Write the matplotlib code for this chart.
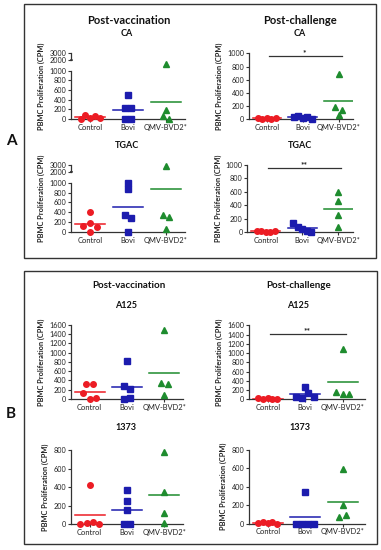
import matplotlib
matplotlib.use('Agg')
import matplotlib.pyplot as plt
import numpy as np
from matplotlib.patches import Rectangle

plt.rcParams['font.family'] = ['Lato', 'DejaVu Sans']

groups = ['Control', 'Bovi', 'QMV-BVD2*']

# CPM values per group (Control, Bovi, QMV-BVD2*)
ca_vax = [[10, 80, 30, 55, 25], [490, 230, 220, 5, 5], [1140, 180, 62, 5]]
ca_chal = [[20, 10, 25, 5, 15], [35, 45, 20, 35, 10], [686, 191, 141, 65]]
tgac_vax = [[410, 130, 190, 110, 0], [1000, 870, 350, 290, 0], [2750, 345, 305, 60]]
tgac_chal = [[20, 10, 0, 5, 15], [140, 70, 40, 20, 5], [594, 465, 248, 79]]
a125_vax = [[320, 320, 120, 0, 20], [810, 280, 220, 0, 20], [1490, 340, 320, 90]]
a125_chal = [[20, 10, 25, 5, 15], [60, 270, 20, 140, 50], [1088, 165, 110, 110]]
s1373_vax = [[425, 5, 15, 25, 0], [366, 246, 155, 0, 0], [778, 347, 119, 10]]
s1373_chal = [[10, 20, 5, 15, 0], [346, 0, 0, 0, 0], [588, 199, 70, 90]]

# significance bars: (level, label)
ca_sig = (960, '*')
tgac_sig = (946, '**')
a125_sig = (1406, '**')

colors = ['#ec1c24', '#1c1cae', '#1e8c2e']
markers = ['o', 's', '^']
msizes = [4.0, 4.2, 4.0]

W, H = 381, 550
fig = plt.figure(figsize=(W / 100, H / 100), dpi=100)


def frect(x0, y0, x1, y1):
    # pixel box (top-left origin) -> figure fraction rect
    return [x0 / W, 1 - y1 / H, (x1 - x0) / W, (y1 - y0) / H]


# broken y axis: linear to 1150, then 2000-3000 squeezed on top
bk_in = [0, 1150, 2000, 3000]
bk_out = [0, 1150, 1225, 1365]


def fwd(v):
    return np.interp(v, bk_in, bk_out)


def inv(v):
    return np.interp(v, bk_out, bk_in)


def spread(vals, thr):
    # GraphPad-like: points with close values are fanned out sideways
    vals = np.asarray(vals, dtype=float)
    order = np.argsort(vals, kind='stable')
    offs = np.zeros(len(vals))
    clusters = [[order[0]]]
    for k in order[1:]:
        if vals[k] - vals[clusters[-1][-1]] <= thr:
            clusters[-1].append(k)
        else:
            clusters.append([k])
    for c in clusters:
        n = len(c)
        step = min(0.18, 0.5 / max(n - 1, 1))
        for j, k in enumerate(sorted(c)):
            offs[k] = (j - (n - 1) / 2) * step
    return offs


def panel(box, data, ymax, yticks, xmax, broken=False, sig=None):
    ax = fig.add_axes(frect(*box))
    if broken:
        ax.set_yscale('function', functions=(fwd, inv))
        thr = 70
    else:
        thr = 0.07 * ymax
    for i, vals in enumerate(data):
        offs = spread(vals, thr)
        ax.plot(i + offs, vals, ls='none', marker=markers[i], ms=msizes[i],
                color=colors[i], clip_on=False, zorder=4)
        m = np.mean(vals)
        ax.plot([i - 0.4, i + 0.4], [m, m], color=colors[i], lw=1.1, zorder=3)
    ax.set_xlim(-0.5, xmax)
    ax.set_ylim(0, ymax)
    ax.set_yticks(yticks)
    ax.set_yticklabels([str(t) for t in yticks], fontsize=5.2, color='#222222')
    ax.set_xticks(range(len(groups)))
    ax.set_xticklabels(groups, fontsize=5.4, color='#222222')
    ax.tick_params(axis='both', length=2.2, width=0.8, pad=1.2, color='#333333')
    for s in ['top', 'right']:
        ax.spines[s].set_visible(False)
    for s in ['left', 'bottom']:
        ax.spines[s].set_linewidth(0.9)
        ax.spines[s].set_color('#333333')
    if broken:
        ax.spines['left'].set_bounds(0, 1000)
        tr = ax.get_yaxis_transform()
        ax.plot([0, 0], [2000, 3000], color='#333333', lw=0.9, transform=tr,
                clip_on=False)
        ax.plot([0, 0.012, 0], [1850, 1930, 2000], color='#333333', lw=0.9,
                transform=tr, clip_on=False)
    if sig is not None:
        lvl, lab = sig
        ax.plot([0.05, 2.08], [lvl, lvl], color='#333333', lw=0.9, clip_on=False)
        ax.text(1.05, lvl, lab, ha='center', va='bottom', fontsize=6,
                fontweight='bold', color='#222222')
    ax.set_ylabel('PBMC Proliferation (CPM)', fontsize=5.3, fontweight='bold',
                  labelpad=3, color='#222222')
    ax.patch.set_alpha(0)
    return ax


panel((71, 53, 185, 119), ca_vax, 3000, [0, 200, 400, 600, 800, 1000, 2000, 3000],
      2.5, broken=True)
panel((249, 53.3, 353, 119.3), ca_chal, 1000, list(range(0, 1001, 200)), 2.4,
      sig=ca_sig)
panel((71, 164.7, 185, 232), tgac_vax, 3000, [0, 200, 400, 600, 800, 1000, 2000, 3000],
      2.5, broken=True)
panel((247.5, 164.7, 353, 232), tgac_chal, 1000, list(range(0, 1001, 200)), 2.4,
      sig=tgac_sig)
panel((71, 324.7, 183, 399), a125_vax, 1600, list(range(0, 1601, 200)), 2.5)
panel((249, 325.3, 365, 399.3), a125_chal, 1600, list(range(0, 1601, 200)), 2.6,
      sig=a125_sig)
panel((71, 450.3, 183, 524), s1373_vax, 800, list(range(0, 801, 200)), 2.5)
panel((249, 449.7, 365, 523.7), s1373_chal, 800, list(range(0, 801, 200)), 2.6)


def ftext(x, y, s, size, **kw):
    fig.text(x / W, 1 - y / H, s, fontsize=size, fontweight='bold', ha='center',
             va='center', color='#111111', **kw)


ftext(129, 21, 'Post-vaccination', 8)
ftext(300, 21, 'Post-challenge', 8)
ftext(127, 34, 'CA', 6.5)
ftext(300, 34, 'CA', 6.5)
ftext(127, 146, 'TGAC', 6.5)
ftext(300, 146, 'TGAC', 6.5)
ftext(129, 285, 'Post-vaccination', 7)
ftext(299, 285, 'Post-challenge', 7)
ftext(126, 305, 'A125', 6.5)
ftext(298, 305, 'A125', 6.5)
ftext(126, 428, '1373', 6.5)
ftext(300, 428, '1373', 6.5)
ftext(11, 141, 'A', 11)
ftext(11, 414, 'B', 11)

# panel frames
for (x0, y0, x1, y1) in [(24, 4, 376, 258), (24, 271, 377, 544)]:
    fig.patches.append(Rectangle((x0 / W, 1 - y1 / H), (x1 - x0) / W, (y1 - y0) / H,
                                 transform=fig.transFigure, fill=False,
                                 edgecolor='#333333', lw=1.0))

fig.savefig('out.png', dpi=100)
